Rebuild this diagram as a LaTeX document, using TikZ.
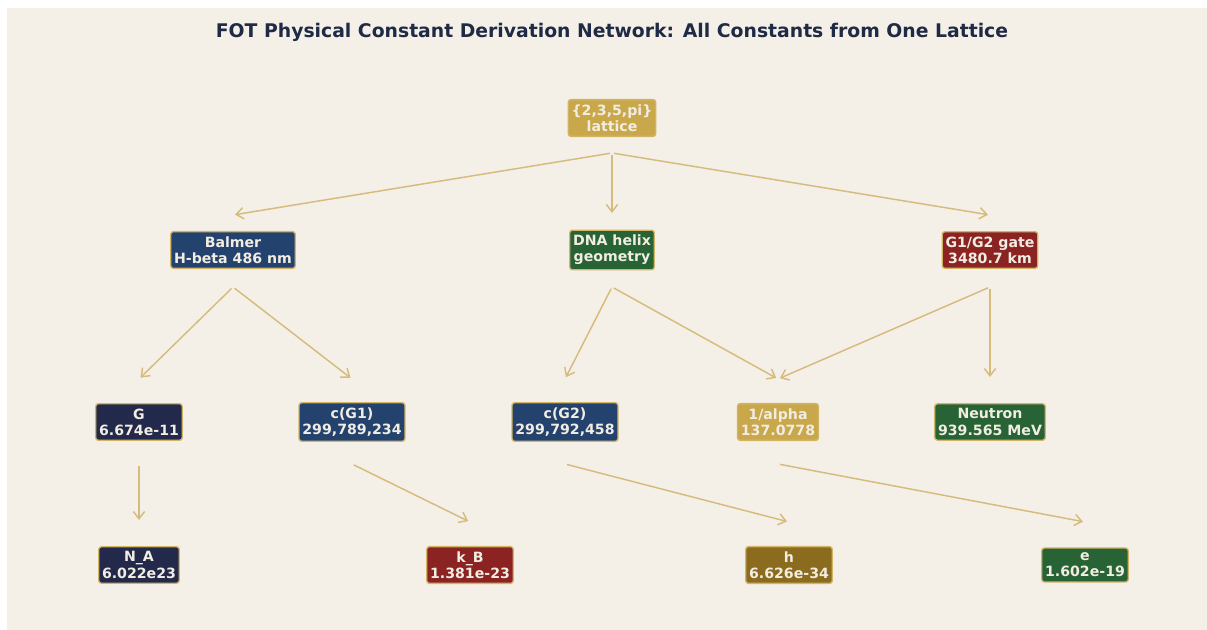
\documentclass[tikz,border=0pt]{standalone}
\usepackage{fontspec}
\setmainfont{DejaVu Sans}
\usetikzlibrary{arrows.meta,positioning,calc}
\definecolor{panelbg}{HTML}{F4F0E8}
\definecolor{titlecol}{HTML}{1F2A44}
\definecolor{goldbox}{HTML}{C9A84C}
\definecolor{navybox}{HTML}{24426E}
\definecolor{inkbox}{HTML}{22294A}
\definecolor{greenbox}{HTML}{276334}
\definecolor{redbox}{HTML}{8B2323}
\definecolor{brownbox}{HTML}{8B6B1E}
\definecolor{boxedge}{HTML}{D2B466}
\definecolor{boxtext}{HTML}{F2EDE2}
\definecolor{linkcol}{HTML}{D6BC7C}
\tikzset{
  const/.style={draw=boxedge, line width=1pt, rounded corners=2pt, text=boxtext,
    font=\bfseries\fontsize{10.6}{12.2}\selectfont, align=center,
    inner xsep=2.5pt, inner ysep=3.6pt},
  link/.style={linkcol, line width=1.1pt, shorten <=1.5pt, shorten >=1.5pt,
    -{Straight Barb[length=5.5pt,width=8.5pt,line width=1.1pt]}}
}
\begin{document}
\begin{tikzpicture}[x=0.75pt,y=-0.75pt]
    % Panel
    \useasboundingbox (0,0) rectangle (1207,630);
    \fill[panelbg] (7,8) rectangle (1207,630);
    \node[text=titlecol, font=\bfseries\fontsize{14.1}{17}\selectfont] (title) at (612,32.5)
      {FOT Physical Constant Derivation Network: All Constants from One Lattice};
    % Root
    \node[const, fill=goldbox] (lattice) at (612,118) {\{2,3,5,pi\}\\lattice};
    % Sources
    \node[const, fill=navybox] (balmer) at (233,250) {Balmer\\H-beta 486 nm};
    \node[const, fill=greenbox] (dna) at (612,250) {DNA helix\\geometry};
    \node[const, fill=redbox] (gate) at (990,250) {G1/G2 gate\\3480.7 km};
    % First constants
    \node[const, fill=inkbox] (grav) at (139,422) {G\\6.674e-11};
    \node[const, fill=navybox] (cone) at (352,422) {c(G1)\\299,789,234};
    \node[const, fill=navybox] (ctwo) at (565,422) {c(G2)\\299,792,458};
    \node[const, fill=goldbox] (alpha) at (778,422) {1/alpha\\137.0778};
    \node[const, fill=greenbox] (neutron) at (990,422) {Neutron\\939.565 MeV};
    % Derived constants
    \node[const, fill=inkbox] (avog) at (139,565) {N\_A\\6.022e23};
    \node[const, fill=redbox] (boltz) at (470,565) {k\_B\\1.381e-23};
    \node[const, fill=brownbox] (planck) at (789,565) {h\\6.626e-34};
    \node[const, fill=greenbox] (charge) at (1085,565) {e\\1.602e-19};
    % Links
    \draw[link] ($(lattice.center)+(0,35)$) -- ($(balmer.center)+(0,-35)$);
    \draw[link] ($(lattice.center)+(0,35)$) -- ($(dna.center)+(0,-35)$);
    \draw[link] ($(lattice.center)+(0,35)$) -- ($(gate.center)+(0,-35)$);
    \draw[link] ($(balmer.center)+(0,37)$) -- ($(grav.center)+(0,-43)$);
    \draw[link] ($(balmer.center)+(0,37)$) -- ($(cone.center)+(0,-43)$);
    \draw[link] ($(dna.center)+(0,37)$) -- ($(ctwo.center)+(0,-43)$);
    \draw[link] ($(dna.center)+(0,37)$) -- ($(alpha.center)+(0,-43)$);
    \draw[link] ($(gate.center)+(0,37)$) -- ($(alpha.center)+(0,-43)$);
    \draw[link] ($(gate.center)+(0,37)$) -- ($(neutron.center)+(0,-43)$);
    \draw[link] ($(grav.center)+(0,42)$) -- ($(avog.center)+(0,-43)$);
    \draw[link] ($(cone.center)+(0,42)$) -- ($(boltz.center)+(0,-43)$);
    \draw[link] ($(ctwo.center)+(0,42)$) -- ($(planck.center)+(0,-43)$);
    \draw[link] ($(alpha.center)+(0,42)$) -- ($(charge.center)+(0,-43)$);
\end{tikzpicture}
\end{document}
